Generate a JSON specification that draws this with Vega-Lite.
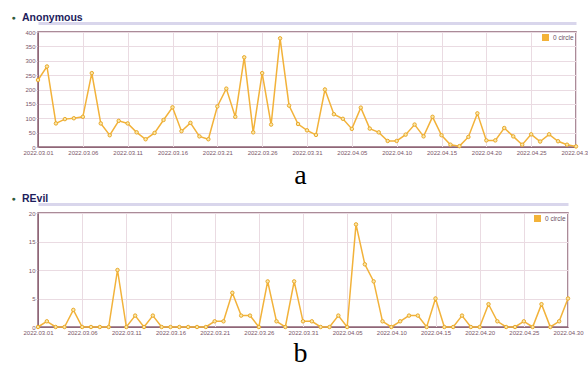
{
  "$schema": "https://vega.github.io/schema/vega-lite/v6.json",
  "padding": {"left": 10, "top": 11, "right": 0, "bottom": 0},
  "spacing": 2,
  "resolve": {"legend": {"color": "independent"}},
  "config": {
    "font": "Liberation Sans",
    "view": {"stroke": "#8f6677", "strokeWidth": 1.5},
    "axis": {"labelFontSize": 6, "labelColor": "#7a5668", "gridColor": "#eadbe2", "gridWidth": 1, "domainColor": "#8f6677", "tickColor": "#c9b5be", "tickSize": 2},
    "axisY": {"minExtent": 20, "maxExtent": 20, "labelOverlap": false, "labelPadding": 1},
    "legend": {"orient": "top-right", "offset": 2, "labelFontSize": 6.5, "labelColor": "#6b5060", "symbolType": "square", "symbolSize": 30, "padding": 0, "title": null,
      "symbolFillColor": "#f5b335", "symbolStrokeColor": "#f5b335"}
  },
  "datasets": {
    "anonymous": [
      {"date": "2022-03-01", "count": 233}, {"date": "2022-03-02", "count": 280}, {"date": "2022-03-03", "count": 82}, {"date": "2022-03-04", "count": 97}, {"date": "2022-03-05", "count": 100},
      {"date": "2022-03-06", "count": 105}, {"date": "2022-03-07", "count": 257}, {"date": "2022-03-08", "count": 82}, {"date": "2022-03-09", "count": 41}, {"date": "2022-03-10", "count": 91},
      {"date": "2022-03-11", "count": 82}, {"date": "2022-03-12", "count": 51}, {"date": "2022-03-13", "count": 27}, {"date": "2022-03-14", "count": 49}, {"date": "2022-03-15", "count": 94},
      {"date": "2022-03-16", "count": 138}, {"date": "2022-03-17", "count": 55}, {"date": "2022-03-18", "count": 84}, {"date": "2022-03-19", "count": 37}, {"date": "2022-03-20", "count": 27},
      {"date": "2022-03-21", "count": 141}, {"date": "2022-03-22", "count": 203}, {"date": "2022-03-23", "count": 105}, {"date": "2022-03-24", "count": 312}, {"date": "2022-03-25", "count": 51},
      {"date": "2022-03-26", "count": 257}, {"date": "2022-03-27", "count": 78}, {"date": "2022-03-28", "count": 378}, {"date": "2022-03-29", "count": 144}, {"date": "2022-03-30", "count": 80},
      {"date": "2022-03-31", "count": 58}, {"date": "2022-04-01", "count": 42}, {"date": "2022-04-02", "count": 200}, {"date": "2022-04-03", "count": 114}, {"date": "2022-04-04", "count": 98},
      {"date": "2022-04-05", "count": 63}, {"date": "2022-04-06", "count": 137}, {"date": "2022-04-07", "count": 64}, {"date": "2022-04-08", "count": 51}, {"date": "2022-04-09", "count": 21},
      {"date": "2022-04-10", "count": 21}, {"date": "2022-04-11", "count": 43}, {"date": "2022-04-12", "count": 78}, {"date": "2022-04-13", "count": 37}, {"date": "2022-04-14", "count": 105},
      {"date": "2022-04-15", "count": 41}, {"date": "2022-04-16", "count": 8}, {"date": "2022-04-17", "count": 3}, {"date": "2022-04-18", "count": 35}, {"date": "2022-04-19", "count": 117},
      {"date": "2022-04-20", "count": 23}, {"date": "2022-04-21", "count": 23}, {"date": "2022-04-22", "count": 66}, {"date": "2022-04-23", "count": 37}, {"date": "2022-04-24", "count": 8},
      {"date": "2022-04-25", "count": 44}, {"date": "2022-04-26", "count": 19}, {"date": "2022-04-27", "count": 44}, {"date": "2022-04-28", "count": 20}, {"date": "2022-04-29", "count": 8},
      {"date": "2022-04-30", "count": 2}
    ],
    "revil": [
      {"date": "2022-03-01", "count": 0}, {"date": "2022-03-02", "count": 1}, {"date": "2022-03-03", "count": 0}, {"date": "2022-03-04", "count": 0}, {"date": "2022-03-05", "count": 3},
      {"date": "2022-03-06", "count": 0}, {"date": "2022-03-07", "count": 0}, {"date": "2022-03-08", "count": 0}, {"date": "2022-03-09", "count": 0}, {"date": "2022-03-10", "count": 10},
      {"date": "2022-03-11", "count": 0}, {"date": "2022-03-12", "count": 2}, {"date": "2022-03-13", "count": 0}, {"date": "2022-03-14", "count": 2}, {"date": "2022-03-15", "count": 0},
      {"date": "2022-03-16", "count": 0}, {"date": "2022-03-17", "count": 0}, {"date": "2022-03-18", "count": 0}, {"date": "2022-03-19", "count": 0}, {"date": "2022-03-20", "count": 0},
      {"date": "2022-03-21", "count": 1}, {"date": "2022-03-22", "count": 1}, {"date": "2022-03-23", "count": 6}, {"date": "2022-03-24", "count": 2}, {"date": "2022-03-25", "count": 2},
      {"date": "2022-03-26", "count": 0}, {"date": "2022-03-27", "count": 8}, {"date": "2022-03-28", "count": 1}, {"date": "2022-03-29", "count": 0}, {"date": "2022-03-30", "count": 8},
      {"date": "2022-03-31", "count": 1}, {"date": "2022-04-01", "count": 1}, {"date": "2022-04-02", "count": 0}, {"date": "2022-04-03", "count": 0}, {"date": "2022-04-04", "count": 2},
      {"date": "2022-04-05", "count": 0}, {"date": "2022-04-06", "count": 18}, {"date": "2022-04-07", "count": 11}, {"date": "2022-04-08", "count": 8}, {"date": "2022-04-09", "count": 1},
      {"date": "2022-04-10", "count": 0}, {"date": "2022-04-11", "count": 1}, {"date": "2022-04-12", "count": 2}, {"date": "2022-04-13", "count": 2}, {"date": "2022-04-14", "count": 0},
      {"date": "2022-04-15", "count": 5}, {"date": "2022-04-16", "count": 0}, {"date": "2022-04-17", "count": 0}, {"date": "2022-04-18", "count": 2}, {"date": "2022-04-19", "count": 0},
      {"date": "2022-04-20", "count": 0}, {"date": "2022-04-21", "count": 4}, {"date": "2022-04-22", "count": 1}, {"date": "2022-04-23", "count": 0}, {"date": "2022-04-24", "count": 0},
      {"date": "2022-04-25", "count": 1}, {"date": "2022-04-26", "count": 0}, {"date": "2022-04-27", "count": 4}, {"date": "2022-04-28", "count": 0}, {"date": "2022-04-29", "count": 1},
      {"date": "2022-04-30", "count": 5}
    ]
  },
  "vconcat": [
    {
      "width": 538,
      "height": 115,
      "data": {"name": "anonymous"},
      "title": {"text": "Anonymous", "anchor": "start", "frame": "group", "dx": -16, "offset": -10, "fontSize": 10.5, "fontWeight": "bold", "color": "#1d1d5c"},
      "resolve": {"axis": {"x": "independent"}},
      "encoding": {
        "y": {"field": "count", "type": "quantitative", "scale": {"domain": [0, 400], "nice": false},
          "axis": {"values": [0, 50, 100, 150, 200, 250, 300, 350, 400], "title": "●", "titleAngle": 0, "titleX": -25, "titleY": -15, "titleColor": "#2f5a3a", "titleFontSize": 7, "titleAlign": "center", "titleBaseline": "middle"}}
      },
      "layer": [
        {
          "mark": {"type": "line", "strokeWidth": 1.5},
          "encoding": {
            "x": {"field": "date", "type": "temporal", "scale": {"type": "utc", "nice": false},
              "axis": {"format": "%Y.%m.%d", "labelFlush": false, "labelPadding": 2, "ticks": false,
                "values": [{"year": 2022, "month": 3, "date": 1, "utc": true}, {"year": 2022, "month": 3, "date": 6, "utc": true}, {"year": 2022, "month": 3, "date": 11, "utc": true}, {"year": 2022, "month": 3, "date": 16, "utc": true}, {"year": 2022, "month": 3, "date": 21, "utc": true}, {"year": 2022, "month": 3, "date": 26, "utc": true}, {"year": 2022, "month": 3, "date": 31, "utc": true}, {"year": 2022, "month": 4, "date": 5, "utc": true}, {"year": 2022, "month": 4, "date": 10, "utc": true}, {"year": 2022, "month": 4, "date": 15, "utc": true}, {"year": 2022, "month": 4, "date": 20, "utc": true}, {"year": 2022, "month": 4, "date": 25, "utc": true}, {"year": 2022, "month": 4, "date": 30, "utc": true}],
                "title": "a", "titleFont": "Liberation Serif", "titleFontSize": 28, "titleFontWeight": "normal", "titleColor": "#000000", "titlePadding": 6, "titleX": 262}},
            "color": {"datum": "0 circle", "scale": {"range": ["#f2b23a"]}}
          }
        },
        {
          "mark": {"type": "point", "filled": true, "fill": "#fbe7a8", "stroke": "#e9a92a", "strokeWidth": 1, "size": 12, "opacity": 1},
          "encoding": {
            "x": {"field": "date", "type": "temporal", "axis": {"orient": "top", "labels": false, "ticks": false, "grid": false, "domainColor": "#d9d6ec", "domainWidth": 3, "offset": 9, "title": null}}
          }
        }
      ]
    },
    {
      "width": 530,
      "height": 114,
      "data": {"name": "revil"},
      "title": {"text": "REvil", "anchor": "start", "frame": "group", "dx": -16, "offset": -10, "fontSize": 10.5, "fontWeight": "bold", "color": "#1d1d5c"},
      "resolve": {"axis": {"x": "independent"}},
      "encoding": {
        "y": {"field": "count", "type": "quantitative", "scale": {"domain": [0, 20], "nice": false},
          "axis": {"values": [0, 5, 10, 15, 20], "title": "●", "titleAngle": 0, "titleX": -25, "titleY": -15, "titleColor": "#2f5a3a", "titleFontSize": 7, "titleAlign": "center", "titleBaseline": "middle"}}
      },
      "layer": [
        {
          "mark": {"type": "line", "strokeWidth": 1.5},
          "encoding": {
            "x": {"field": "date", "type": "temporal", "scale": {"type": "utc", "nice": false},
              "axis": {"format": "%Y.%m.%d", "labelFlush": false, "labelPadding": 2, "ticks": false,
                "values": [{"year": 2022, "month": 3, "date": 1, "utc": true}, {"year": 2022, "month": 3, "date": 6, "utc": true}, {"year": 2022, "month": 3, "date": 11, "utc": true}, {"year": 2022, "month": 3, "date": 16, "utc": true}, {"year": 2022, "month": 3, "date": 21, "utc": true}, {"year": 2022, "month": 3, "date": 26, "utc": true}, {"year": 2022, "month": 3, "date": 31, "utc": true}, {"year": 2022, "month": 4, "date": 5, "utc": true}, {"year": 2022, "month": 4, "date": 10, "utc": true}, {"year": 2022, "month": 4, "date": 15, "utc": true}, {"year": 2022, "month": 4, "date": 20, "utc": true}, {"year": 2022, "month": 4, "date": 25, "utc": true}, {"year": 2022, "month": 4, "date": 30, "utc": true}],
                "title": "b", "titleFont": "Liberation Serif", "titleFontSize": 28, "titleFontWeight": "normal", "titleColor": "#000000", "titlePadding": 4, "titleX": 262}},
            "color": {"datum": "0 circle", "scale": {"range": ["#f2b23a"]}}
          }
        },
        {
          "mark": {"type": "point", "filled": true, "fill": "#fbe7a8", "stroke": "#e9a92a", "strokeWidth": 1, "size": 12, "opacity": 1},
          "encoding": {
            "x": {"field": "date", "type": "temporal", "axis": {"orient": "top", "labels": false, "ticks": false, "grid": false, "domainColor": "#d9d6ec", "domainWidth": 3, "offset": 9, "title": null}}
          }
        }
      ]
    }
  ]
}
